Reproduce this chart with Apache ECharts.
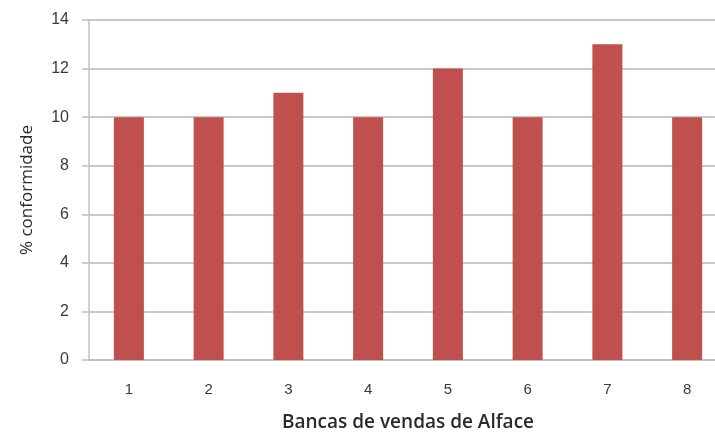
<!DOCTYPE html>
<html><head><meta charset="utf-8">
<script src="https://cdn.jsdelivr.net/npm/echarts@6/dist/echarts.min.js"></script>
<style>html,body{margin:0;padding:0;background:#fff}#c{width:715px;height:432px}</style>
</head><body><div id="c"></div>
<script>
const categories = ['1','2','3','4','5','6','7','8'];
const values = [10, 10, 11, 10, 12, 10, 13, 10];
const chart = echarts.init(document.getElementById('c'));
chart.setOption({
  animation: false,
  grid: {left: 89, top: 20, right: -12, bottom: 72, outerBoundsMode: 'none', containLabel: false},
  xAxis: {
    type: 'category', data: categories,
    name: 'Bancas de vendas de Alface', nameLocation: 'middle', nameGap: 53,
    nameTextStyle: {fontFamily: 'Open Sans', fontSize: 19, fontWeight: 600, color: '#2a2a2a'},
    axisLine: {lineStyle: {color: '#c0c0c0', width: 2}},
    axisTick: {show: false},
    axisLabel: {margin: 22, fontFamily: 'Liberation Sans', fontSize: 15, color: '#3a3a3a'},
    splitLine: {show: false}
  },
  yAxis: {
    type: 'value', min: 0, max: 14, interval: 2,
    name: '% conformidade', nameLocation: 'middle', nameGap: 53, nameRotate: 90,
    nameTextStyle: {fontFamily: 'Open Sans', fontSize: 17, fontWeight: 500, color: '#2a2a2a'},
    axisLine: {show: true, lineStyle: {color: '#c0c0c0', width: 1.5}},
    axisTick: {show: true, length: 7, lineStyle: {color: '#c0c0c0', width: 1.5}},
    axisLabel: {margin: 20, fontFamily: 'Liberation Sans', fontSize: 16, color: '#3a3a3a'},
    splitLine: {lineStyle: {color: '#c8c8c8', width: 2}}
  },
  series: [{
    type: 'bar', data: values, barWidth: 30,
    itemStyle: {color: '#c0504d'}
  }]
});
</script></body></html>
